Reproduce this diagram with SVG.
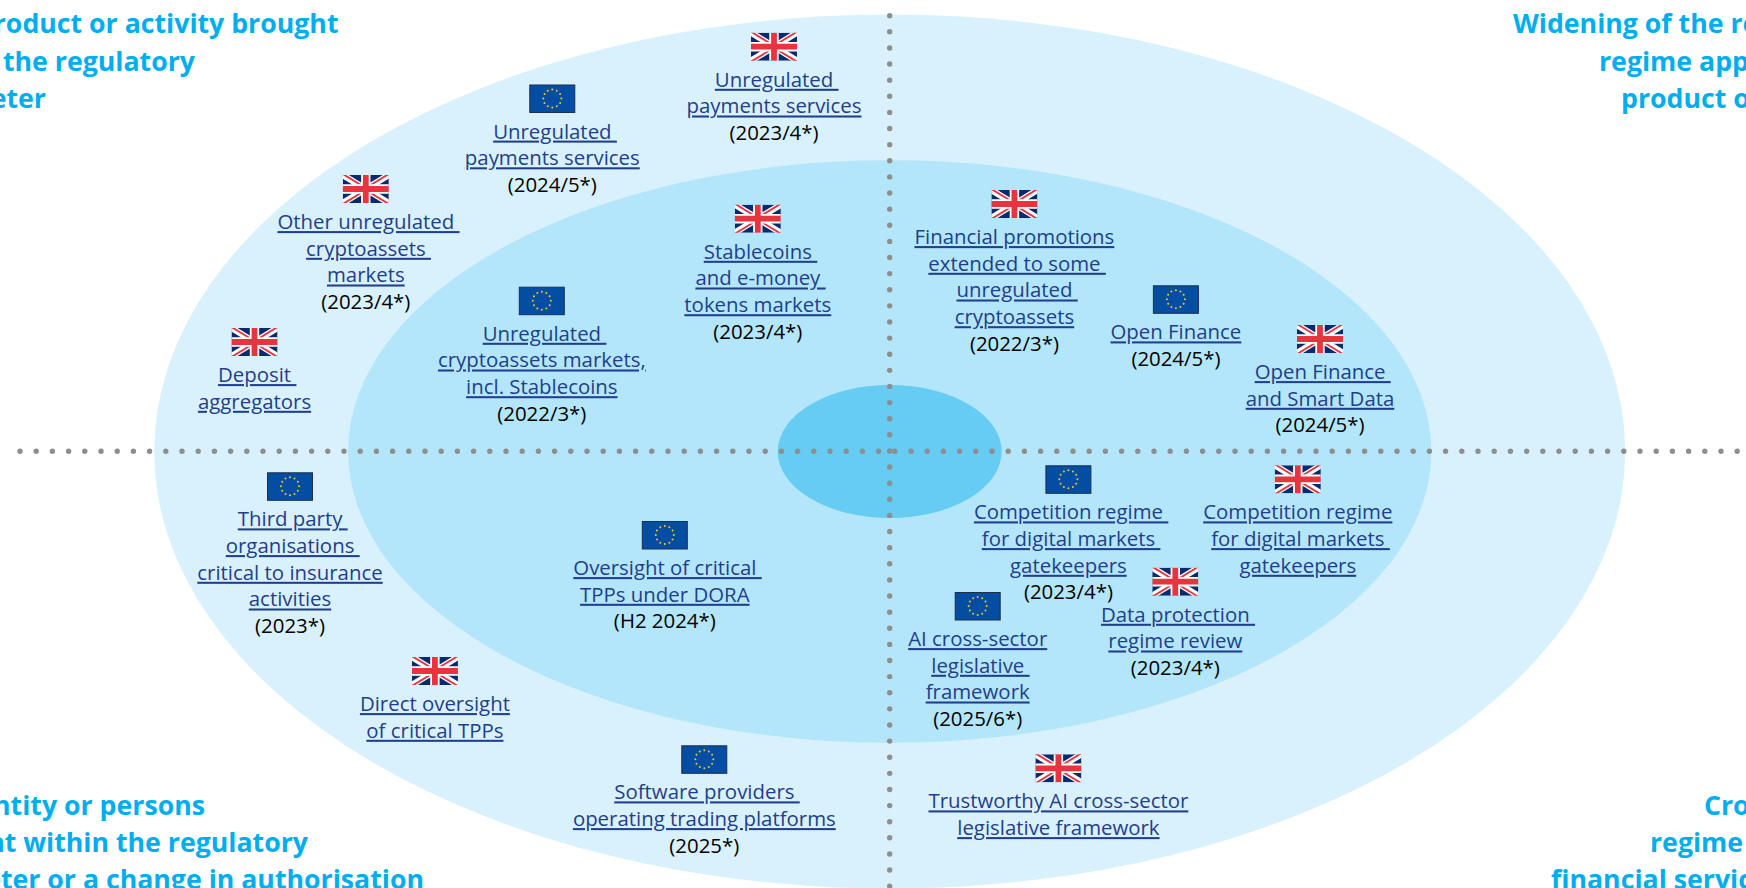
<svg xmlns="http://www.w3.org/2000/svg" width="1746" height="888" viewBox="0 0 1746 888">
<style>
text{font-family:"Open Sans","Noto Sans","Liberation Sans",sans-serif;white-space:pre}
.l,.y{font-size:20.4px;text-anchor:middle;transform:translateY(-.6px)}
.l{fill:#1f3e8c;text-decoration:underline}
.y{fill:#000}
.t{font-size:26.7px;font-weight:700;fill:#00aeef}
.e{text-anchor:end}
.dots{fill:none;stroke:#8e8e8e;stroke-width:5.4;stroke-linecap:round}
.h{stroke-dasharray:0 16.2}
.v{stroke-dasharray:0 16.12}
</style>
<defs>
<clipPath id="ukc"><rect width="46" height="28"/></clipPath>
<g id="uk" clip-path="url(#ukc)">
<rect width="46" height="28" fill="#0a2a6e"/>
<path d="M0 0L46 28M46 0L0 28" stroke="#fff" stroke-width="6.2"/>
<path d="M0 -1L23 13M46 -1L23 13M0 29L23 15M46 29L23 15" stroke="#e8343f" stroke-width="1.9"/>
<path d="M23 0V28M0 14H46" stroke="#fff" stroke-width="9.4"/>
<path d="M23 0V28M0 14H46" stroke="#e8343f" stroke-width="5.8"/>
</g>
<g id="eu">
<rect x=".5" y=".5" width="45" height="27.5" fill="#034ea2" stroke="#1c2f4f"/>
<g fill="#f4c81c">
<circle cx="23" cy="5" r="1"/><circle cx="27.5" cy="6.2" r="1"/><circle cx="30.8" cy="9.5" r="1"/><circle cx="32" cy="14" r="1"/><circle cx="30.8" cy="18.5" r="1"/><circle cx="27.5" cy="21.8" r="1"/><circle cx="23" cy="23" r="1"/><circle cx="18.5" cy="21.8" r="1"/><circle cx="15.2" cy="18.5" r="1"/><circle cx="14" cy="14" r="1"/><circle cx="15.2" cy="9.5" r="1"/><circle cx="18.5" cy="6.2" r="1"/>
</g>
</g>
</defs>
<rect width="1746" height="888" fill="#fff"/>
<g id="rings">
<ellipse id="ring-outer" cx="889.7" cy="451.5" rx="735.5" ry="437" fill="#d9f1fc"/>
<ellipse id="ring-middle" cx="889.7" cy="451.5" rx="541.7" ry="291.3" fill="#b3e6fa"/>
<ellipse id="ring-core" cx="889.7" cy="451.5" rx="112" ry="66.5" fill="#66ccf3"/>
</g>
<g id="connectors">
<path class="dots h" d="M20 451.3H1746"/>
<path class="dots v" d="M889.7 15.7V888"/>
</g>
<g id="titles">
<text id="title-tl" class="t e"><tspan x="338.5" y="33">roduct or activity brought</tspan><tspan x="195" y="71">the regulatory</tspan><tspan x="46" y="107.6">eter</tspan></text>
<text id="title-tr" class="t"><tspan x="1513" y="33">Widening of the re</tspan><tspan x="1599" y="71">regime app</tspan><tspan x="1621" y="107.6">product o</tspan></text>
<text id="title-bl" class="t e"><tspan x="205" y="815">ntity or persons</tspan><tspan x="308" y="852.3">nt within the regulatory</tspan><tspan x="424" y="889">eter or a change in authorisation</tspan></text>
<text id="title-br" class="t"><tspan x="1704" y="815">Cro</tspan><tspan x="1650" y="852.3">regime </tspan><tspan x="1551" y="889">financial servic</tspan></text>
</g>
<g id="n-uk-payments" transform="translate(774 46.7)"><use href="#uk" x="-23" y="-14"/><text class="l" x="2.7" y="40.7">Unregulated </text><text class="l" y="67.4">payments services</text><text class="y" y="94.1">(2023/4*)</text></g>
<g id="n-eu-payments" transform="translate(552.3 98.5)"><use href="#eu" x="-23" y="-14"/><text class="l" x="2.7" y="40.7">Unregulated </text><text class="l" y="67.4">payments services</text><text class="y" y="94.1">(2024/5*)</text></g>
<g id="n-uk-crypto" transform="translate(365.8 189)"><use href="#uk" x="-23" y="-14"/><text class="l" x="2.7" y="40.7">Other unregulated </text><text class="l" x="2.7" y="67.4">cryptoassets </text><text class="l" y="94.1">markets</text><text class="y" y="120.8">(2023/4*)</text></g>
<g id="n-uk-deposit" transform="translate(254.5 342)"><use href="#uk" x="-23" y="-14"/><text class="l" x="2.7" y="40.7">Deposit </text><text class="l" y="67.4">aggregators</text></g>
<g id="n-eu-crypto" transform="translate(541.8 300.7)"><use href="#eu" x="-23" y="-14"/><text class="l" x="2.7" y="40.7">Unregulated </text><text class="l" y="67.4">cryptoassets markets,</text><text class="l" y="94.1">incl. Stablecoins</text><text class="y" y="120.8">(2022/3*)</text></g>
<g id="n-uk-stablecoins" transform="translate(757.8 218.7)"><use href="#uk" x="-23" y="-14"/><text class="l" x="2.7" y="40.7">Stablecoins </text><text class="l" x="2.7" y="67.4">and e-money </text><text class="l" y="94.1">tokens markets</text><text class="y" y="120.8">(2023/4*)</text></g>
<g id="n-uk-promotions" transform="translate(1014.4 204)"><use href="#uk" x="-23" y="-14"/><text class="l" y="40.7">Financial promotions</text><text class="l" x="2.7" y="67.4">extended to some </text><text class="l" x="2.7" y="94.1">unregulated </text><text class="l" y="120.8">cryptoassets</text><text class="y" y="147.5">(2022/3*)</text></g>
<g id="n-eu-open-finance" transform="translate(1175.9 299.3)"><use href="#eu" x="-23" y="-14"/><text class="l" y="40.7">Open Finance</text><text class="y" y="67.4">(2024/5*)</text></g>
<g id="n-uk-open-finance" transform="translate(1320 339)"><use href="#uk" x="-23" y="-14"/><text class="l" x="2.7" y="40.7">Open Finance </text><text class="l" y="67.4">and Smart Data</text><text class="y" y="94.1">(2024/5*)</text></g>
<g id="n-eu-third-party" transform="translate(290 486.3)"><use href="#eu" x="-23" y="-14"/><text class="l" x="2.7" y="40.7">Third party </text><text class="l" x="2.7" y="67.4">organisations </text><text class="l" y="94.1">critical to insurance</text><text class="l" y="120.8">activities</text><text class="y" y="147.5">(2023*)</text></g>
<g id="n-eu-dora" transform="translate(664.8 535)"><use href="#eu" x="-23" y="-14"/><text class="l" x="2.7" y="40.7">Oversight of critical </text><text class="l" y="67.4">TPPs under DORA</text><text class="y" y="94.1">(H2 2024*)</text></g>
<g id="n-uk-oversight" transform="translate(434.9 671)"><use href="#uk" x="-23" y="-14"/><text class="l" y="40.7">Direct oversight</text><text class="l" y="67.4">of critical TPPs</text></g>
<g id="n-eu-software" transform="translate(704.3 759.3)"><use href="#eu" x="-23" y="-14"/><text class="l" x="2.7" y="40.7">Software providers </text><text class="l" y="67.4">operating trading platforms</text><text class="y" y="94.1">(2025*)</text></g>
<g id="n-eu-competition" transform="translate(1068.4 479.3)"><use href="#eu" x="-23" y="-14"/><text class="l" x="2.7" y="40.7">Competition regime </text><text class="l" x="2.7" y="67.4">for digital markets </text><text class="l" y="94.1">gatekeepers</text><text class="y" y="120.8">(2023/4*)</text></g>
<g id="n-uk-competition" transform="translate(1297.8 479.3)"><use href="#uk" x="-23" y="-14"/><text class="l" y="40.7">Competition regime</text><text class="l" x="2.7" y="67.4">for digital markets </text><text class="l" y="94.1">gatekeepers</text></g>
<g id="n-uk-data" transform="translate(1175.3 581.7)"><use href="#uk" x="-23" y="-14"/><text class="l" x="2.7" y="40.7">Data protection </text><text class="l" y="67.4">regime review</text><text class="y" y="94.1">(2023/4*)</text></g>
<g id="n-eu-ai" transform="translate(977.7 606)"><use href="#eu" x="-23" y="-14"/><text class="l" y="40.7">AI cross-sector</text><text class="l" x="2.7" y="67.4">legislative </text><text class="l" y="94.1">framework</text><text class="y" y="120.8">(2025/6*)</text></g>
<g id="n-uk-ai" transform="translate(1058.4 768.3)"><use href="#uk" x="-23" y="-14"/><text class="l" y="40.7">Trustworthy AI cross-sector</text><text class="l" y="67.4">legislative framework</text></g>
</svg>
